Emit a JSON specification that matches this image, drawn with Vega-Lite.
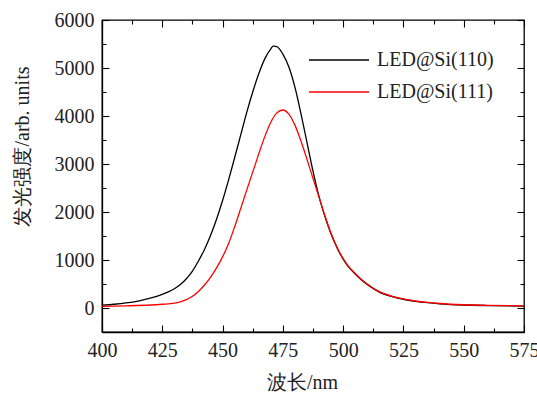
{
  "$schema": "https://vega.github.io/schema/vega-lite/v6.json",
  "width": 422,
  "height": 312,
  "autosize": {"type": "none"},
  "padding": {"left": 102, "top": 20, "right": 13, "bottom": 62},
  "background": "white",
  "config": {
    "view": {"stroke": "#000", "strokeWidth": 1.3},
    "font": "Liberation Serif",
    "axis": {
      "grid": false,
      "domainColor": "#000",
      "domainWidth": 1.3,
      "tickColor": "#000",
      "tickWidth": 1.1,
      "labelColor": "#222",
      "labelFont": "Liberation Serif",
      "labelFontSize": 20,
      "titleFont": "Liberation Serif",
      "titleFontSize": 20,
      "titleFontWeight": "normal",
      "titleColor": "#222"
    }
  },
  "data": {
    "values": [
      {"wl": 400, "v": 60, "s": "LED@Si(110)"},
      {"wl": 405, "v": 78, "s": "LED@Si(110)"},
      {"wl": 410, "v": 105, "s": "LED@Si(110)"},
      {"wl": 415, "v": 145, "s": "LED@Si(110)"},
      {"wl": 420, "v": 205, "s": "LED@Si(110)"},
      {"wl": 425, "v": 285, "s": "LED@Si(110)"},
      {"wl": 427.5, "v": 335, "s": "LED@Si(110)"},
      {"wl": 430, "v": 400, "s": "LED@Si(110)"},
      {"wl": 432.5, "v": 490, "s": "LED@Si(110)"},
      {"wl": 435, "v": 610, "s": "LED@Si(110)"},
      {"wl": 437.5, "v": 770, "s": "LED@Si(110)"},
      {"wl": 440, "v": 980, "s": "LED@Si(110)"},
      {"wl": 442.5, "v": 1220, "s": "LED@Si(110)"},
      {"wl": 445, "v": 1510, "s": "LED@Si(110)"},
      {"wl": 447.5, "v": 1850, "s": "LED@Si(110)"},
      {"wl": 450, "v": 2240, "s": "LED@Si(110)"},
      {"wl": 452.5, "v": 2670, "s": "LED@Si(110)"},
      {"wl": 455, "v": 3130, "s": "LED@Si(110)"},
      {"wl": 457.5, "v": 3600, "s": "LED@Si(110)"},
      {"wl": 460, "v": 4070, "s": "LED@Si(110)"},
      {"wl": 462.5, "v": 4500, "s": "LED@Si(110)"},
      {"wl": 465, "v": 4880, "s": "LED@Si(110)"},
      {"wl": 467.5, "v": 5190, "s": "LED@Si(110)"},
      {"wl": 470, "v": 5400, "s": "LED@Si(110)"},
      {"wl": 471, "v": 5455, "s": "LED@Si(110)"},
      {"wl": 472.5, "v": 5445, "s": "LED@Si(110)"},
      {"wl": 475, "v": 5290, "s": "LED@Si(110)"},
      {"wl": 477.5, "v": 5020, "s": "LED@Si(110)"},
      {"wl": 480, "v": 4600, "s": "LED@Si(110)"},
      {"wl": 482.5, "v": 4050, "s": "LED@Si(110)"},
      {"wl": 485, "v": 3450, "s": "LED@Si(110)"},
      {"wl": 487.5, "v": 2850, "s": "LED@Si(110)"},
      {"wl": 490, "v": 2320, "s": "LED@Si(110)"},
      {"wl": 492.5, "v": 1900, "s": "LED@Si(110)"},
      {"wl": 495, "v": 1540, "s": "LED@Si(110)"},
      {"wl": 497.5, "v": 1250, "s": "LED@Si(110)"},
      {"wl": 500, "v": 1020, "s": "LED@Si(110)"},
      {"wl": 502.5, "v": 840, "s": "LED@Si(110)"},
      {"wl": 505, "v": 710, "s": "LED@Si(110)"},
      {"wl": 507.5, "v": 590, "s": "LED@Si(110)"},
      {"wl": 510, "v": 490, "s": "LED@Si(110)"},
      {"wl": 515, "v": 330, "s": "LED@Si(110)"},
      {"wl": 520, "v": 240, "s": "LED@Si(110)"},
      {"wl": 525, "v": 180, "s": "LED@Si(110)"},
      {"wl": 530, "v": 140, "s": "LED@Si(110)"},
      {"wl": 535, "v": 110, "s": "LED@Si(110)"},
      {"wl": 540, "v": 88, "s": "LED@Si(110)"},
      {"wl": 550, "v": 62, "s": "LED@Si(110)"},
      {"wl": 560, "v": 50, "s": "LED@Si(110)"},
      {"wl": 575, "v": 40, "s": "LED@Si(110)"},
      {"wl": 400, "v": 35, "s": "LED@Si(111)"},
      {"wl": 410, "v": 45, "s": "LED@Si(111)"},
      {"wl": 420, "v": 62, "s": "LED@Si(111)"},
      {"wl": 425, "v": 78, "s": "LED@Si(111)"},
      {"wl": 430, "v": 100, "s": "LED@Si(111)"},
      {"wl": 432.5, "v": 130, "s": "LED@Si(111)"},
      {"wl": 435, "v": 175, "s": "LED@Si(111)"},
      {"wl": 437.5, "v": 245, "s": "LED@Si(111)"},
      {"wl": 440, "v": 345, "s": "LED@Si(111)"},
      {"wl": 442.5, "v": 480, "s": "LED@Si(111)"},
      {"wl": 445, "v": 640, "s": "LED@Si(111)"},
      {"wl": 447.5, "v": 835, "s": "LED@Si(111)"},
      {"wl": 450, "v": 1065, "s": "LED@Si(111)"},
      {"wl": 452.5, "v": 1345, "s": "LED@Si(111)"},
      {"wl": 455, "v": 1690, "s": "LED@Si(111)"},
      {"wl": 457.5, "v": 2070, "s": "LED@Si(111)"},
      {"wl": 460, "v": 2455, "s": "LED@Si(111)"},
      {"wl": 462.5, "v": 2830, "s": "LED@Si(111)"},
      {"wl": 465, "v": 3210, "s": "LED@Si(111)"},
      {"wl": 467.5, "v": 3570, "s": "LED@Si(111)"},
      {"wl": 470, "v": 3870, "s": "LED@Si(111)"},
      {"wl": 472.5, "v": 4065, "s": "LED@Si(111)"},
      {"wl": 475, "v": 4125, "s": "LED@Si(111)"},
      {"wl": 477.5, "v": 4040, "s": "LED@Si(111)"},
      {"wl": 480, "v": 3810, "s": "LED@Si(111)"},
      {"wl": 482.5, "v": 3480, "s": "LED@Si(111)"},
      {"wl": 485, "v": 3100, "s": "LED@Si(111)"},
      {"wl": 487.5, "v": 2700, "s": "LED@Si(111)"},
      {"wl": 490, "v": 2310, "s": "LED@Si(111)"},
      {"wl": 492.5, "v": 1910, "s": "LED@Si(111)"},
      {"wl": 495, "v": 1550, "s": "LED@Si(111)"},
      {"wl": 497.5, "v": 1260, "s": "LED@Si(111)"},
      {"wl": 500, "v": 1030, "s": "LED@Si(111)"},
      {"wl": 502.5, "v": 850, "s": "LED@Si(111)"},
      {"wl": 505, "v": 720, "s": "LED@Si(111)"},
      {"wl": 507.5, "v": 600, "s": "LED@Si(111)"},
      {"wl": 510, "v": 500, "s": "LED@Si(111)"},
      {"wl": 515, "v": 340, "s": "LED@Si(111)"},
      {"wl": 520, "v": 248, "s": "LED@Si(111)"},
      {"wl": 525, "v": 188, "s": "LED@Si(111)"},
      {"wl": 530, "v": 146, "s": "LED@Si(111)"},
      {"wl": 535, "v": 116, "s": "LED@Si(111)"},
      {"wl": 540, "v": 94, "s": "LED@Si(111)"},
      {"wl": 550, "v": 68, "s": "LED@Si(111)"},
      {"wl": 560, "v": 56, "s": "LED@Si(111)"},
      {"wl": 575, "v": 46, "s": "LED@Si(111)"}
    ]
  },
  "layer": [
    {
      "mark": {"type": "line", "strokeWidth": 1.3, "interpolate": "monotone", "clip": true},
      "encoding": {
        "x": {
          "field": "wl", "type": "quantitative",
          "scale": {"domain": [400, 575], "nice": false, "zero": false},
          "axis": {
            "orient": "bottom",
            "title": "波长/nm",
            "values": [400, 412.5, 425, 437.5, 450, 462.5, 475, 487.5, 500, 512.5, 525, 537.5, 550, 562.5, 575],
            "labelExpr": "datum.value % 25 === 0 ? datum.label : ''",
            "format": "d",
            "tickSize": {"condition": {"test": "datum.value % 25 === 0", "value": -7}, "value": -4},
            "labelPadding": 15,
            "labelFlush": false,
            "titleX": 200,
            "titleY": 50,
            "titleAlign": "center",
            "titleBaseline": "middle"
          }
        },
        "y": {
          "field": "v", "type": "quantitative",
          "scale": {"domain": [-500, 6000], "nice": false, "zero": false},
          "axis": {
            "orient": "left",
            "title": "发光强度/arb. units",
            "values": [0, 500, 1000, 1500, 2000, 2500, 3000, 3500, 4000, 4500, 5000, 5500, 6000],
            "labelExpr": "datum.value % 1000 === 0 ? datum.label : ''",
            "format": "d",
            "tickSize": {"condition": {"test": "datum.value % 1000 === 0", "value": -7}, "value": -4},
            "labelPadding": 15,
            "labelFlush": false,
            "titleX": -80,
            "titleY": 126,
            "titleAlign": "center",
            "titleBaseline": "middle",
            "titleAngle": -90
          }
        },
        "color": {
          "field": "s", "type": "nominal",
          "scale": {"domain": ["LED@Si(110)", "LED@Si(111)"], "range": ["#000000", "#ff0000"]},
          "legend": {
            "title": null,
            "orient": "none",
            "legendX": 206,
            "legendY": 24,
            "padding": 0,
            "symbolType": "stroke",
            "symbolSize": 3600,
            "symbolStrokeWidth": 1.3,
            "clipHeight": 32,
            "rowPadding": 0,
            "labelOffset": 7,
            "labelFont": "Liberation Serif",
            "labelFontSize": 20,
            "labelColor": "#222",
            "labelLimit": 300
          }
        }
      }
    },
    {
      "mark": {"type": "line", "opacity": 0},
      "encoding": {
        "x": {
          "field": "wl", "type": "quantitative",
          "axis": {
            "orient": "top",
            "title": null,
            "labels": false,
            "domain": false,
            "values": [400, 412.5, 425, 437.5, 450, 462.5, 475, 487.5, 500, 512.5, 525, 537.5, 550, 562.5, 575],
            "tickSize": {"condition": {"test": "datum.value % 25 === 0", "value": -7}, "value": -4}
          }
        },
        "y": {
          "field": "v", "type": "quantitative",
          "axis": {
            "orient": "right",
            "title": null,
            "labels": false,
            "domain": false,
            "values": [0, 500, 1000, 1500, 2000, 2500, 3000, 3500, 4000, 4500, 5000, 5500, 6000],
            "tickSize": {"condition": {"test": "datum.value % 1000 === 0", "value": -7}, "value": -4}
          }
        },
        "detail": {"field": "s", "type": "nominal"}
      }
    }
  ],
  "resolve": {"axis": {"x": "independent", "y": "independent"}}
}
